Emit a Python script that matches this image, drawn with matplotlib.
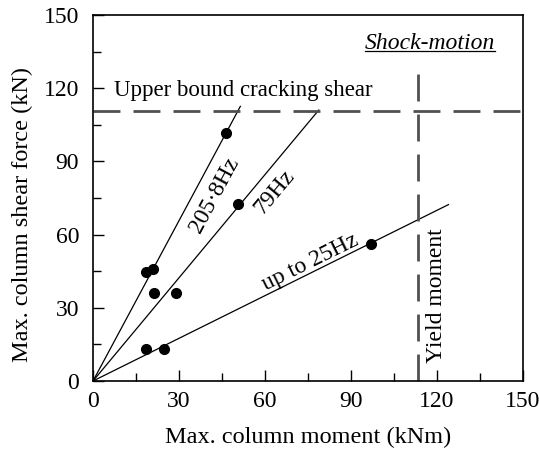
import numpy as np
import matplotlib
matplotlib.use("Agg")
import matplotlib.pyplot as plt
from matplotlib.ticker import MultipleLocator

plt.rcParams['font.family'] = ['Liberation Serif', 'DejaVu Serif']
plt.rcParams['mathtext.fontset'] = 'stix'

# measured peak responses (moment kNm, shear kN)
moment = [18.5, 20.8, 46.4, 21.3, 28.8, 50.7, 18.5, 24.9, 96.9]
shear = [44.7, 45.9, 101.6, 35.9, 36.2, 72.4, 13.2, 13.2, 56.0]

# fitted lines through the origin: label, slope, end of line (kNm)
fit_labels = ['205·8Hz', '79Hz', 'up to 25Hz']
fit_slopes = [2.19, 1.41, 0.583]
fit_ends = [51.5, 78.9, 124.2]

cracking_shear = 110.7   # kN
yield_moment = 113.5     # kNm

fig = plt.figure(figsize=(5.39, 4.49), dpi=100)
ax = fig.add_axes([93/539, 1 - 381/449, 430/539, 366/449])

for s, xe in zip(fit_slopes, fit_ends):
    xx = np.array([0, xe])
    ax.plot(xx, s * xx, color='black', lw=0.9, solid_capstyle='butt')

ax.plot(moment, shear, 'o', color='black', ms=7, zorder=5)

dash_kw = dict(color='#505050', lw=2.0, dashes=(9.7, 4.7))
ax.plot([0, 150], [cracking_shear, cracking_shear], **dash_kw)
ax.plot([yield_moment, yield_moment], [0, 125.8], **dash_kw)

fs = 17
ax.text(7.5, 119, 'Upper bound cracking shear', fontsize=16.5, va='center', ha='left')
ax.text(119.8, 7.3, 'Yield moment', fontsize=fs, rotation=90, ha='center', va='bottom')
ax.text(140.2, 138.5, 'Shock-motion', fontsize=fs, style='italic',
        ha='right', va='center')
ax.plot([94.8, 140.2], [135.2, 135.2], color='black', lw=0.9)

# labels along the fitted lines
ax.text(42.3, 76, fit_labels[0], fontsize=fs, rotation=61.8,
        ha='center', va='center', rotation_mode='anchor')
ax.text(63.3, 77.3, fit_labels[1], fontsize=fs, rotation=50.2,
        ha='center', va='center', rotation_mode='anchor')
ax.text(75.7, 48.6, fit_labels[2], fontsize=fs, rotation=26.3,
        ha='center', va='center', rotation_mode='anchor')

ax.set_xlim(0, 150)
ax.set_ylim(0, 150)
ax.xaxis.set_major_locator(MultipleLocator(30))
ax.xaxis.set_minor_locator(MultipleLocator(15))
ax.yaxis.set_major_locator(MultipleLocator(30))
ax.yaxis.set_minor_locator(MultipleLocator(15))
ax.tick_params(which='both', direction='in', top=False, right=False,
               width=1.0, labelsize=fs)
ax.tick_params(which='major', length=8)
ax.tick_params(which='minor', length=5.5)
ax.tick_params(axis='y', pad=10)
ax.tick_params(axis='x', pad=7)
for sp in ax.spines.values():
    sp.set_linewidth(1.2)

ax.set_xlabel('Max. column moment (kNm)', fontsize=17.5, labelpad=11)
ax.set_ylabel('Max. column shear force (kN)', fontsize=17.5)
ax.yaxis.set_label_coords(-0.14, 0.456)

fig.savefig('out.png', dpi=100)
